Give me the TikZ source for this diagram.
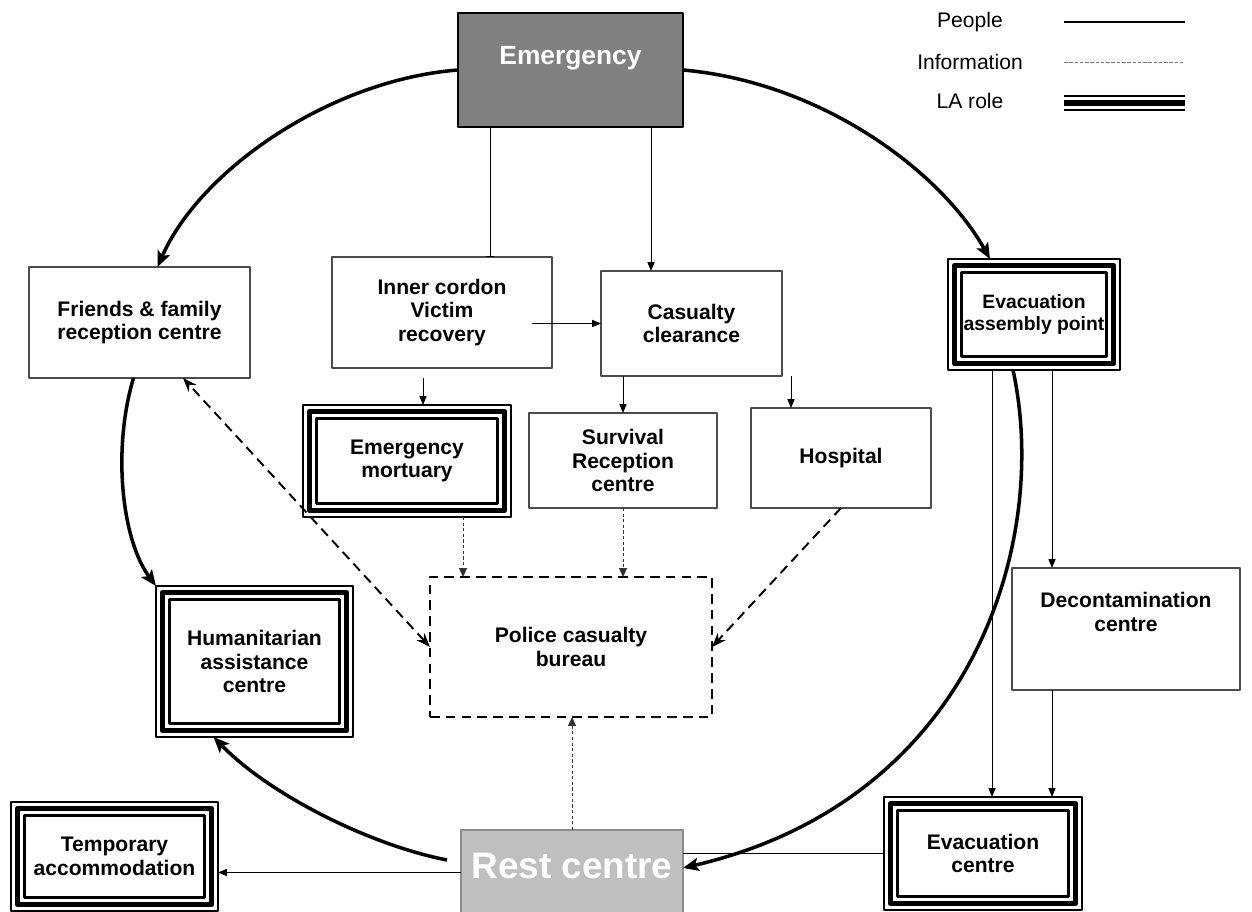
\documentclass[tikz,border=0pt]{standalone}
\usepackage{fontspec}
\setmainfont{Liberation Sans}
\usetikzlibrary{arrows.meta,calc}

\newcommand{\px}{0.02cm}

\tikzset{
  box/.style={draw=black!70, line width=0.6pt, inner sep=0pt, outer sep=0pt, align=center,
    font=\bfseries\fontsize{12}{13.5}\selectfont},
  larole/.style={box, draw=black, line width=1pt},
  label text/.style={inner sep=0pt, align=center, font=\bfseries\fontsize{12}{13.5}\selectfont},
  legend text/.style={inner sep=0pt, font=\fontsize{12}{14}\selectfont},
  people/.style={line width=2pt, -{Stealth[length=9pt,width=7.5pt,inset=2pt]}},
  flow/.style={line width=0.5pt, -{Triangle[length=5pt,width=4pt]}},
  info/.style={line width=0.5pt, black!80, dash pattern=on 1.8pt off 1.4pt, -{Triangle[length=5pt,width=4.5pt]}},
  enquiry/.style={line width=1.1pt, dash pattern=on 5.5pt off 3.5pt, -{Stealth[length=8pt,width=6pt]}},
}

\begin{document}
\begin{tikzpicture}[line join=round,x=0.02cm,y=-0.02cm]
	\useasboundingbox (0,0) rectangle (1252,912);
	\node[box, draw=black, line width=1.7pt, fill=black!50, minimum width=225*\px, minimum height=114*\px] (emergency) at (570.5,70) {};
	\node[label text, white, font=\bfseries\fontsize{15}{18}\selectfont] (emergencytext) at (570.5,58) {Emergency};
	\node[box, draw=black!45, line width=1.2pt, fill=black!25, minimum width=222*\px, minimum height=90*\px] (restcentre) at (572,875) {};
	\node[label text, white, font=\bfseries\fontsize{21}{24}\selectfont] (restcentretext) at (572,866) {Rest centre};
	\node[box, minimum width=221*\px, minimum height=111*\px] (friends) at (139.5,322.5) {Friends \& family\\reception centre};
	\node[box, minimum width=220*\px, minimum height=111*\px] (cordon) at (442,312.5) {Inner cordon\\Victim\\recovery};
	\node[box, minimum width=181*\px, minimum height=105*\px] (clearance) at (691.5,323.5) {Casualty\\clearance};
	\node[larole, font=\bfseries\fontsize{11}{13}\selectfont, minimum width=172*\px, minimum height=111*\px] (assembly) at (1034,314.5) {Evacuation\\assembly point};
	\node[larole, minimum width=208*\px, minimum height=112*\px] (mortuary) at (407,461) {Emergency\\mortuary};
	\node[box, minimum width=188*\px, minimum height=95*\px] (survival) at (623,460.5) {Survival\\Reception\\centre};
	\node[box, minimum width=180*\px, minimum height=100*\px] (hospital) at (841,458) {Hospital};
	\node[box, draw=black, line width=1.3pt, dash pattern=on 5.5pt off 3.5pt, minimum width=282*\px, minimum height=140*\px] (police) at (571,647) {Police casualty\\bureau};
	\node[box, minimum width=228*\px, minimum height=122*\px] (decon) at (1126,629) {};
	\node[label text] (decontext) at (1126,612) {Decontamination\\centre};
	\node[larole, minimum width=197*\px, minimum height=151*\px] (humanitarian) at (254.5,661.5) {Humanitarian\\assistance\\centre};
	\node[larole, minimum width=207*\px, minimum height=109*\px] (temporary) at (114.5,856.5) {Temporary\\accommodation};
	\node[larole, minimum width=198*\px, minimum height=113*\px] (evaccentre) at (983,853.5) {Evacuation\\centre};
	\foreach \n in {assembly,mortuary,humanitarian,temporary,evaccentre} {
		\draw[line width=3.4pt] ($(\n.north west)+(6.5,6.5)$) rectangle ($(\n.south east)+(-6.5,-6.5)$);
		\draw[line width=1.3pt] ($(\n.north west)+(13.5,13.5)$) rectangle ($(\n.south east)+(-13.5,-13.5)$);
	}
	% legend
	\node[legend text] (people) at (970,22) {People};
	\node[legend text] (information) at (970,62) {Information};
	\node[legend text] (larolekey) at (970,101) {LA role};
	\coordinate (peoplea) at (1064,22);
	\coordinate (peopleb) at (1185,22);
	\coordinate (infoa) at (1064,62);
	\coordinate (infob) at (1185,62);
	\coordinate (rolea) at (1064,103);
	\coordinate (roleb) at (1185,103);
	\draw[line width=1.2pt] (peoplea) -- (peopleb);
	\draw[black!55, line width=0.5pt, dash pattern=on 2pt off 1pt] (infoa) -- (infob);
	\draw[line width=1pt] ($(rolea)+(0,-7)$) -- ($(roleb)+(0,-7)$);
	\draw[line width=3.6pt] (rolea) -- (roleb);
	\draw[line width=1.1pt] ($(rolea)+(0,7)$) -- ($(roleb)+(0,7)$);
	% people
	\draw[people] (emergency.west) .. controls (330,80) and (200,170) .. ($(friends.north)+(18,0)$);
	\draw[people] (emergency.east) .. controls (820,82) and (940,170) .. ($(assembly.north)+(-44,0)$);
	\draw[people] ($(assembly.south)+(-21,0)$) .. controls (1050,540) and (975,800) .. ($(restcentre.east)+(0,-7)$);
	\draw[people] ($(friends.south)+(-6,0)$) .. controls (112,450) and (122,540) .. (humanitarian.north west);
	\draw[people] ($(restcentre.west)+(-14,-15)$) .. controls (370,845) and (270,795) .. ($(humanitarian.south)+(-41,0)$);
	% thin flows
	\draw[line width=0.5pt, -{Bar[width=5pt]}] ($(emergency.south west)+(32,0)$) -- ($(emergency.south west |- cordon.north)+(32,0)$);
	\draw[flow] ($(emergency.south east)+(-32,0)$) -- ($(emergency.south east |- clearance.north)+(-32,0)$);
	\draw[flow] ($(cordon.east |- clearance.west)+(-20,0)$) -- (clearance.west);
	\draw[flow] ($(mortuary.north |- cordon.south)+(16,10)$) -- ($(mortuary.north)+(16,0)$);
	\draw[flow] (survival.north |- clearance.south) -- (survival.north);
	\draw[flow] ($(hospital.north |- clearance.south)+(-50,0)$) -- ($(hospital.north)+(-50,0)$);
	\draw[flow] ($(assembly.south -| evaccentre.north)+(9,0)$) -- ($(evaccentre.north)+(9,0)$);
	\draw[flow] ($(assembly.south -| decon.north)+(-74,0)$) -- ($(decon.north)+(-74,0)$);
	\draw[flow] ($(decon.south)+(-74,0)$) -- ($(evaccentre.north -| decon.south)+(-74,0)$);
	\draw[flow] ($(restcentre.west |- temporary.east)+(0,16)$) -- ($(temporary.east)+(0,16)$);
	\draw[line width=0.5pt] (evaccentre.west) -- (evaccentre.west -| restcentre.east);
	% information
	\draw[info] ($(mortuary.south)+(56,0)$) -- ($(mortuary.south |- police.north)+(56,0)$);
	\draw[info] (survival.south) -- (survival.south |- police.north);
	\draw[info] (restcentre.north) -- (restcentre.north |- police.south);
	\draw[enquiry, {Stealth[length=8pt,width=6pt]}-{Stealth[length=8pt,width=6pt]}] (police.west) -- ($(friends.south)+(43.5,0)$);
	\draw[enquiry] (hospital.south) -- (police.east);
\end{tikzpicture}
\end{document}
